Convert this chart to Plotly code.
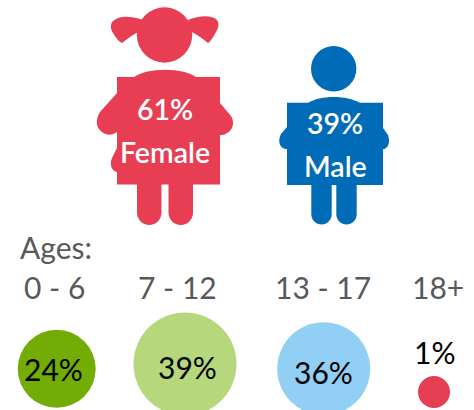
import plotly.graph_objects as go

# ---- data ----
gender_labels = ["Female", "Male"]
gender_values = [61, 39]
age_labels = ["0 - 6", "7 - 12", "13 - 17", "18+"]
age_values = [24, 39, 36, 1]

# ---- style / layout constants ----
RED, BLUE = "#E73E53", "#006BB6"
AGE_COLORS = ["#72AC05", "#B6D77B", "#91CFF4", "#E73E53"]
GREY = "#58595B"
FONT = "Lato"
W, H = 474, 410
AGE_X = [56.7, 185, 323.7, 434]
AGE_Y = [368.8, 364, 368.7, 392]
AGE_D = [78, 103, 93, 32]
AGE_LABEL_X = [54.5, 177, 322.5, 438]
AGE_VALUE_X = [53, 187, 323, 434]
AGE_VALUE_Y = [369, 367, 372, 352]

fig = go.Figure()


def path(d, color):
    return dict(type="path", path=d, fillcolor=color, line=dict(width=0), layer="below")


def circle(cx, cy, r, color):
    return dict(type="circle", x0=cx - r, x1=cx + r, y0=cy - r, y1=cy + r,
                fillcolor=color, line=dict(width=0), layer="below")


def leg(x0, x1, top, bottom, color):
    r = (x1 - x0) / 2
    return path(f"M{x0},{top} L{x1},{top} L{x1},{bottom - r} "
                f"C{x1},{bottom - r * 0.45} {x1 - r * 0.45},{bottom} {x1 - r},{bottom} "
                f"C{x0 + r * 0.45},{bottom} {x0},{bottom - r * 0.45} {x0},{bottom - r} Z", color)


shapes = [
    # girl
    circle(164.5, 35, 27.7, RED),
    path("M143,20 C128,15 118,16 112,22 C110,26 111,30 113,33 C116,38 119,42 122,43 "
         "C128,38 134,34 140,31 Z", RED),
    path("M188,20 C200,15 212,15 217,20 C219,23 219,27 217,30 C214,36 211,41 208,43 "
         "C202,38 196,34 190,31 Z", RED),
    path("M133,78 C145,67 185,67 197,78 Z", RED),
    path("M117,93 L100,112 C95,120 96,128 102,132 C107,136 113,135 117,132 Z", RED),
    path("M220,103 L231,116 C235,122 233,130 227,133 C225,135 222,135 220,135 Z", RED),
    path("M117,148 L112,158 C109,165 112,171 117,172 Z", RED),
    path("M117,77 L220,77 L220,184.5 L117,184.5 Z", RED),
    leg(137, 161.5, 184, 225, RED),
    leg(168.5, 193, 184, 225, RED),
    # boy
    circle(333.7, 68.7, 22.7, BLUE),
    path("M308,103 C320,95 347,95 360,103 Z", BLUE),
    path("M287,127 L281,134 C278,140 279,146 283,148 C284,149 286,149 287,149 Z", BLUE),
    path("M383,128 L388,135 C390,141 389,146 386,148 C385,149 384,149 383,149 Z", BLUE),
    path("M287,102.7 L383,102.7 L383,185 L287,185 Z", BLUE),
    leg(311.3, 331.7, 184, 224.5, BLUE),
    leg(336.3, 356.7, 184, 224.5, BLUE),
]

# age bubbles, drawn from the age arrays
fig.add_trace(go.Scatter(
    x=AGE_X, y=AGE_Y, mode="markers", hoverinfo="skip",
    customdata=age_values,
    marker=dict(size=AGE_D, sizemode="diameter", color=AGE_COLORS, line=dict(width=0), opacity=1),
))

ann = []


def text(x, y, s, size, color, anchor="center", family=FONT, weight=None):
    f = dict(family=family, size=size, color=color)
    if weight:
        f["weight"] = weight
    ann.append(dict(x=x, y=y, text=s, showarrow=False, xanchor=anchor, yanchor="middle",
                    font=f, xref="x", yref="y", align="center"))


text(18, 247, "Ages:", 30, GREY, "left")
for x, s in zip(AGE_LABEL_X, age_labels):
    text(x, 287, s, 30, GREY)
for x, y, v in zip(AGE_VALUE_X, AGE_VALUE_Y, age_values):
    text(x, y, f"{v}%", 30, "#000000")
for x, y1, y2, v, lab, sz in zip([165, 335], [109, 123], [152, 166], gender_values, gender_labels, [28.5, 28.5]):
    text(x, y1, f"{v}%", sz, "#FFFFFF", weight=600)
    text(x, y2, lab, sz, "#FFFFFF", weight=600)

fig.update_layout(
    width=W, height=H, margin=dict(l=0, r=0, t=0, b=0, pad=0),
    paper_bgcolor="white", plot_bgcolor="white", showlegend=False,
    xaxis=dict(range=[0, W], visible=False, fixedrange=True),
    yaxis=dict(range=[H, 0], visible=False, fixedrange=True),
    shapes=shapes, annotations=ann, hovermode=False,
)
fig.write_html("out.html", config={"displayModeBar": False},
               post_script="document.body.style.margin='0';document.documentElement.style.overflow='hidden';")
